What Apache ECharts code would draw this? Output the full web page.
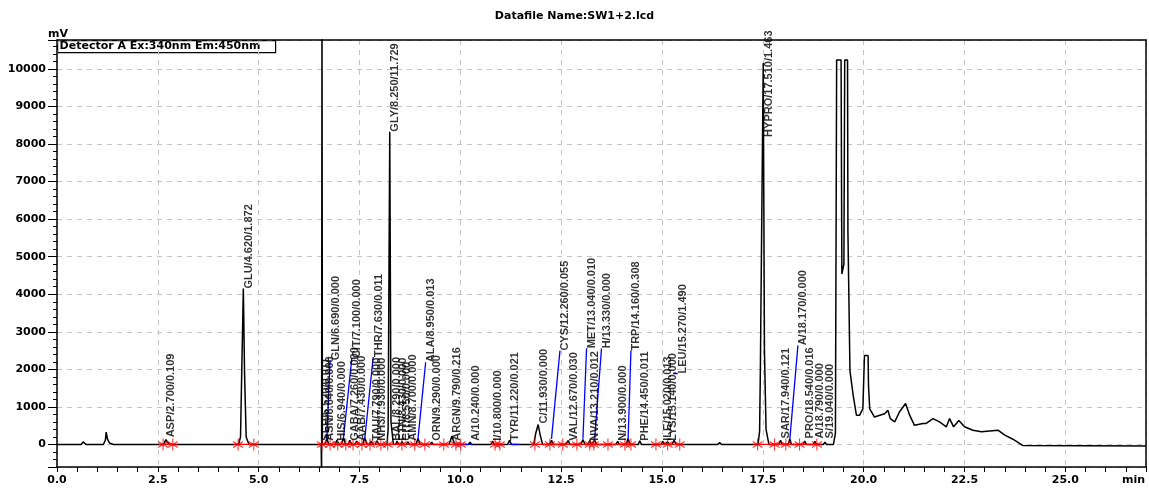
<!DOCTYPE html>
<html>
<head>
<meta charset="utf-8">
<script src="https://cdn.jsdelivr.net/npm/echarts@6/dist/echarts.min.js"></script>
<style>
  html, body { margin: 0; padding: 0; background: #ffffff; }
  #chart { width: 1149px; height: 490px; }
</style>
</head>
<body>
<div id="chart"></div>
<script>
// ---- texts ----
const titleText = 'Datafile Name:SW1+2.lcd';
const detectorText = 'Detector A Ex:340nm Em:450nm';
const yUnit = 'mV';
const xUnit = 'min';

// ---- chromatogram trace: [retention time (min), signal (mV)] ----
const trace = [
  [0.00, 0], [0.60, 0], [0.65, 70], [0.72, 0],
  [1.15, 0], [1.20, 120], [1.22, 330], [1.25, 150], [1.30, 40], [1.40, 0],
  [2.64, 0], [2.70, 130], [2.78, 0],
  [4.50, 0], [4.55, 200], [4.58, 1900], [4.62, 4150], [4.65, 1900], [4.69, 200], [4.76, 0],
  [6.55, 0], [6.56, -900], [6.57, 12000], [6.58, 0],
  [6.64, 0], [6.69, 160], [6.74, 0], [6.90, 0], [6.94, 120], [6.99, 0],
  [7.05, 0], [7.10, 170], [7.16, 0], [7.22, 0], [7.26, 110], [7.31, 0],
  [7.38, 0], [7.43, 90], [7.48, 0], [7.58, 0], [7.63, 180], [7.69, 0],
  [7.74, 0], [7.79, 90], [7.84, 0], [7.89, 0], [7.93, 100], [7.98, 0],
  [8.18, 0], [8.21, 400], [8.25, 8330], [8.28, 600], [8.34, 0],
  [8.40, 0], [8.43, 90], [8.47, 0], [8.52, 0], [8.55, 80], [8.59, 0],
  [8.66, 0], [8.70, 70], [8.74, 0], [8.90, 0], [8.95, 160], [9.01, 0],
  [9.25, 0], [9.29, 60], [9.33, 0], [9.72, 0], [9.79, 220], [9.86, 0],
  [10.20, 0], [10.24, 60], [10.28, 0], [10.76, 0], [10.80, 90], [10.84, 0],
  [11.17, 0], [11.22, 110], [11.27, 0],
  [11.82, 0], [11.87, 300], [11.93, 530], [11.98, 250], [12.04, 0],
  [12.21, 0], [12.26, 110], [12.31, 0], [12.62, 0], [12.67, 100], [12.72, 0],
  [12.99, 0], [13.04, 130], [13.09, 0], [13.17, 0], [13.21, 110], [13.25, 0],
  [13.29, 0], [13.33, 120], [13.38, 0], [13.86, 0], [13.90, 80], [13.94, 0],
  [14.11, 0], [14.16, 160], [14.21, 0], [14.41, 0], [14.45, 100], [14.49, 0],
  [14.98, 0], [15.02, 80], [15.06, 0], [15.10, 0], [15.14, 70], [15.18, 0],
  [15.25, 0], [15.30, 110], [15.35, 0],
  [16.38, 0], [16.43, 50], [16.48, 0],
  [17.38, 0], [17.42, 350], [17.44, 2100], [17.47, 5600], [17.51, 10160], [17.54, 2500], [17.58, 400], [17.65, 0],
  [17.90, 0], [17.94, 110], [17.98, 0], [18.13, 0], [18.17, 150], [18.21, 0],
  [18.50, 0], [18.54, 90], [18.58, 0], [18.75, 0], [18.79, 80], [18.83, 0],
  [19.00, 0], [19.04, 60], [19.08, 0],
  [19.25, 0], [19.30, 300], [19.33, 10240], [19.44, 10240], [19.46, 4540], [19.51, 4800],
  [19.53, 10240], [19.60, 10240], [19.61, 5650], [19.64, 5650], [19.66, 1960], [19.74, 1310],
  [19.82, 780], [19.90, 780], [19.98, 950], [20.02, 2370], [20.11, 2370], [20.12, 1570],
  [20.15, 950], [20.27, 730], [20.40, 780], [20.52, 820], [20.60, 910], [20.66, 690],
  [20.77, 600], [20.89, 870], [21.04, 1090], [21.14, 780], [21.26, 510], [21.47, 560],
  [21.55, 560], [21.72, 690], [21.88, 600], [22.05, 470], [22.13, 690], [22.23, 470],
  [22.36, 640], [22.50, 470], [22.71, 380], [22.92, 340], [23.33, 380], [23.50, 250],
  [23.70, 140], [23.95, -30], [27.00, -40]
];

// ---- peak annotations ----
// name, retention time, concentration, label anchor height (mV)
const peakNames = ['ASP', 'GLU', 'SER', 'ASN', 'HIS', 'GABA', 'AAB', 'TAU', 'NH3', 'GLY',
  'BAL', 'ETN', 'CIT', 'AMN', 'ORN', 'ARGN', 'A', 'I', 'TYR', 'C', 'VAL', 'NVA', 'N',
  'PHE', 'ILE', 'LYS', 'HYPRO', 'SAR', 'PRO', 'A', 'S'];
const peakTimes = [2.70, 4.62, 6.52, 6.64, 6.94, 7.26, 7.43, 7.79, 7.93, 8.25,
  8.29, 8.43, 8.55, 8.70, 9.29, 9.79, 10.24, 10.80, 11.22, 11.93, 12.67, 13.21, 13.90,
  14.45, 15.02, 15.14, 17.51, 17.94, 18.54, 18.79, 19.04];
const peakConc = ['0.109', '1.872', '0.011', '0.000', '0.000', '0.000', '0.000', '0.000', '0.000', '11.729',
  '0.000', '0.000', '0.000', '0.000', '0.000', '0.216', '0.000', '0.000', '0.021', '0.000', '0.030', '0.012', '0.000',
  '0.011', '0.013', '0.000', '1.463', '0.121', '0.016', '0.000', '0.000'];
const peakLabelY = [190, 4150, 100, 100, 100, 100, 100, 100, 100, 8330,
  100, 100, 100, 100, 100, 100, 100, 100, 100, 560, 100, 100, 100,
  100, 100, 100, 8190, 160, 160, 160, 160];

// peaks whose labels sit on a leader line: name, retention time, concentration,
// label time, label height (mV), leader start height (mV)
const leaderNames = ['GLN', 'CIT', 'THR', 'ALA', 'CYS', 'MET', 'H', 'TRP', 'LEU', 'A'];
const leaderTimes = [6.69, 7.10, 7.63, 8.95, 12.26, 13.04, 13.33, 14.16, 15.27, 18.17];
const leaderConc = ['0.000', '0.000', '0.011', '0.013', '0.055', '0.010', '0.000', '0.308', '1.490', '0.000'];
const leaderLabelT = [6.77, 7.31, 7.84, 9.14, 12.47, 13.13, 13.50, 14.23, 15.39, 18.37];
const leaderLabelY = [2240, 2300, 2330, 2190, 2500, 2560, 2560, 2500, 1890, 2640];
const leaderFromY = [150, 150, 150, 150, 150, 150, 150, 150, 1890, 150];

// ---- integration marks ----
const peakMarks = [2.63, 2.87, 4.49, 4.88, 6.57, 6.77, 6.96, 7.16, 7.34, 7.56, 7.76, 8.03, 8.20,
  8.55, 8.87, 9.12, 9.59, 9.89, 10.01, 10.86, 10.98, 11.85, 12.22, 12.54, 12.89, 13.21, 13.31,
  13.66, 14.08, 14.23, 14.85, 15.14, 15.44, 17.37, 17.79, 18.07, 18.41, 18.84];
const redBaselines = [[2.63, 2.87], [4.49, 4.88], [6.57, 9.89], [10.86, 10.98], [11.85, 14.30], [14.85, 15.44], [17.37, 18.84]];
const blueBaselines = [[9.89, 10.30], [11.20, 11.45]];

// ---- axes ----
const xMin = 0, xMax = 27.0, xStep = 2.5;
const yMin = -600, yMax = 10770, yStep = 1000;

const FONT = 'DejaVu Sans';
const LABEL_FONT = 'Liberation Sans';

const chart = echarts.init(document.getElementById('chart'), null, { renderer: 'canvas' });

const series = [];

// chromatogram
series.push({
  type: 'line', data: trace, showSymbol: false, clip: true, z: 3,
  lineStyle: { color: '#000000', width: 1.5 }, silent: true
});

// integration baselines
redBaselines.forEach(([a, b]) => series.push({
  type: 'line', data: [[a, 0], [b, 0]], showSymbol: false, z: 4, silent: true,
  lineStyle: { color: '#ff0000', width: 1.2 }
}));
blueBaselines.forEach(([a, b]) => series.push({
  type: 'line', data: [[a, 0], [b, 0]], showSymbol: false, z: 4, silent: true,
  lineStyle: { color: '#0000ff', width: 1.2 }
}));

// leader lines from peak to its label
leaderTimes.forEach((t, i) => series.push({
  type: 'line', data: [[t, leaderFromY[i]], [leaderLabelT[i], leaderLabelY[i]]],
  showSymbol: false, z: 4, silent: true,
  lineStyle: { color: '#0000ff', width: 1.3 }
}));

// peak start / end marks
series.push({
  type: 'scatter', data: peakMarks.map(t => [t, 0]), z: 5, silent: true,
  symbol: 'path://M5,0L5,12M0,3L10,9M10,3L0,9M1,6L9,6',
  symbolSize: [10, 12],
  itemStyle: { color: 'rgba(0,0,0,0)', borderColor: '#ff0000', borderWidth: 1.2 }
});

// peak labels: NAME/RT/CONC, written upward from the anchor
const labelData = [];
peakNames.forEach((n, i) => labelData.push({
  name: n + '/' + peakTimes[i].toFixed(3) + '/' + peakConc[i],
  value: [peakTimes[i], peakLabelY[i]]
}));
leaderNames.forEach((n, i) => labelData.push({
  name: n + '/' + leaderTimes[i].toFixed(3) + '/' + leaderConc[i],
  value: [leaderLabelT[i], leaderLabelY[i]]
}));
series.push({
  type: 'scatter', data: labelData, symbolSize: 0, z: 6, silent: true,
  label: {
    show: true, formatter: '{b}', position: [0, 0], rotate: 90,
    align: 'left', verticalAlign: 'top',
    fontFamily: LABEL_FONT, fontWeight: 'bold', fontSize: 11, color: '#000000'
  }
});

const gridLine = { show: true, lineStyle: { color: '#c4c4c4', type: [5, 5], width: 1 } };

chart.setOption({
  animation: false,
  backgroundColor: '#ffffff',
  title: {
    text: titleText, left: 'center', top: 6,
    textStyle: { fontFamily: FONT, fontWeight: 'bold', fontSize: 11, color: '#000000' }
  },
  grid: { left: 57, right: 3, top: 40, bottom: 23 },
  xAxis: [{
    type: 'value', min: xMin, max: xMax, interval: xStep,
    axisLine: { show: true, onZero: false, lineStyle: { color: '#000000', width: 1.5 } },
    axisTick: { show: true, length: 5, lineStyle: { color: '#000000' } },
    minorTick: { show: true, splitNumber: 5, length: 5, lineStyle: { color: '#000000' } },
    splitLine: gridLine,
    axisLabel: {
      showMaxLabel: false, margin: 8, formatter: v => v.toFixed(1),
      fontFamily: FONT, fontWeight: 'bold', fontSize: 11, color: '#000000'
    }
  }, {
    type: 'value', position: 'top', min: xMin, max: xMax,
    axisLine: { show: true, onZero: false, lineStyle: { color: '#000000', width: 1.5 } },
    axisTick: { show: false }, axisLabel: { show: false }, splitLine: { show: false }
  }],
  yAxis: [{
    type: 'value', min: yMin, max: yMax, splitNumber: 11, minInterval: yStep, maxInterval: yStep,
    axisLine: { show: true, onZero: false, lineStyle: { color: '#000000', width: 1.5 } },
    axisTick: { show: true, length: 9, lineStyle: { color: '#000000' } },
    minorTick: { show: true, splitNumber: 5, length: 4, lineStyle: { color: '#000000' } },
    splitLine: gridLine,
    axisLabel: {
      showMinLabel: false, showMaxLabel: false, margin: 11,
      formatter: v => (v % yStep === 0 ? String(v) : ''),
      fontFamily: FONT, fontWeight: 'bold', fontSize: 11, color: '#000000'
    }
  }, {
    type: 'value', position: 'right', min: yMin, max: yMax,
    axisLine: { show: true, onZero: false, lineStyle: { color: '#000000', width: 1.5 } },
    axisTick: { show: false }, axisLabel: { show: false }, splitLine: { show: false }
  }],
  graphic: [
    {
      type: 'text', left: 48, top: 29, z: 10,
      style: { text: yUnit, fontFamily: FONT, fontWeight: 'bold', fontSize: 11, fill: '#000000' }
    },
    {
      type: 'text', right: 4, bottom: 4, z: 10,
      style: { text: xUnit, fontFamily: FONT, fontWeight: 'bold', fontSize: 11, fill: '#000000' }
    },
    {
      type: 'group', left: 57, top: 40, z: 10,
      children: [
        { type: 'rect', shape: { x: 0, y: 0, width: 218, height: 12 },
          style: { fill: '#ffffff', stroke: '#000000', lineWidth: 1.2 } },
        { type: 'text', x: 2, y: 0,
          style: { text: detectorText, fontFamily: FONT, fontWeight: 'bold', fontSize: 11, fill: '#000000' } }
      ]
    }
  ],
  series: series
});
</script>
</body>
</html>
